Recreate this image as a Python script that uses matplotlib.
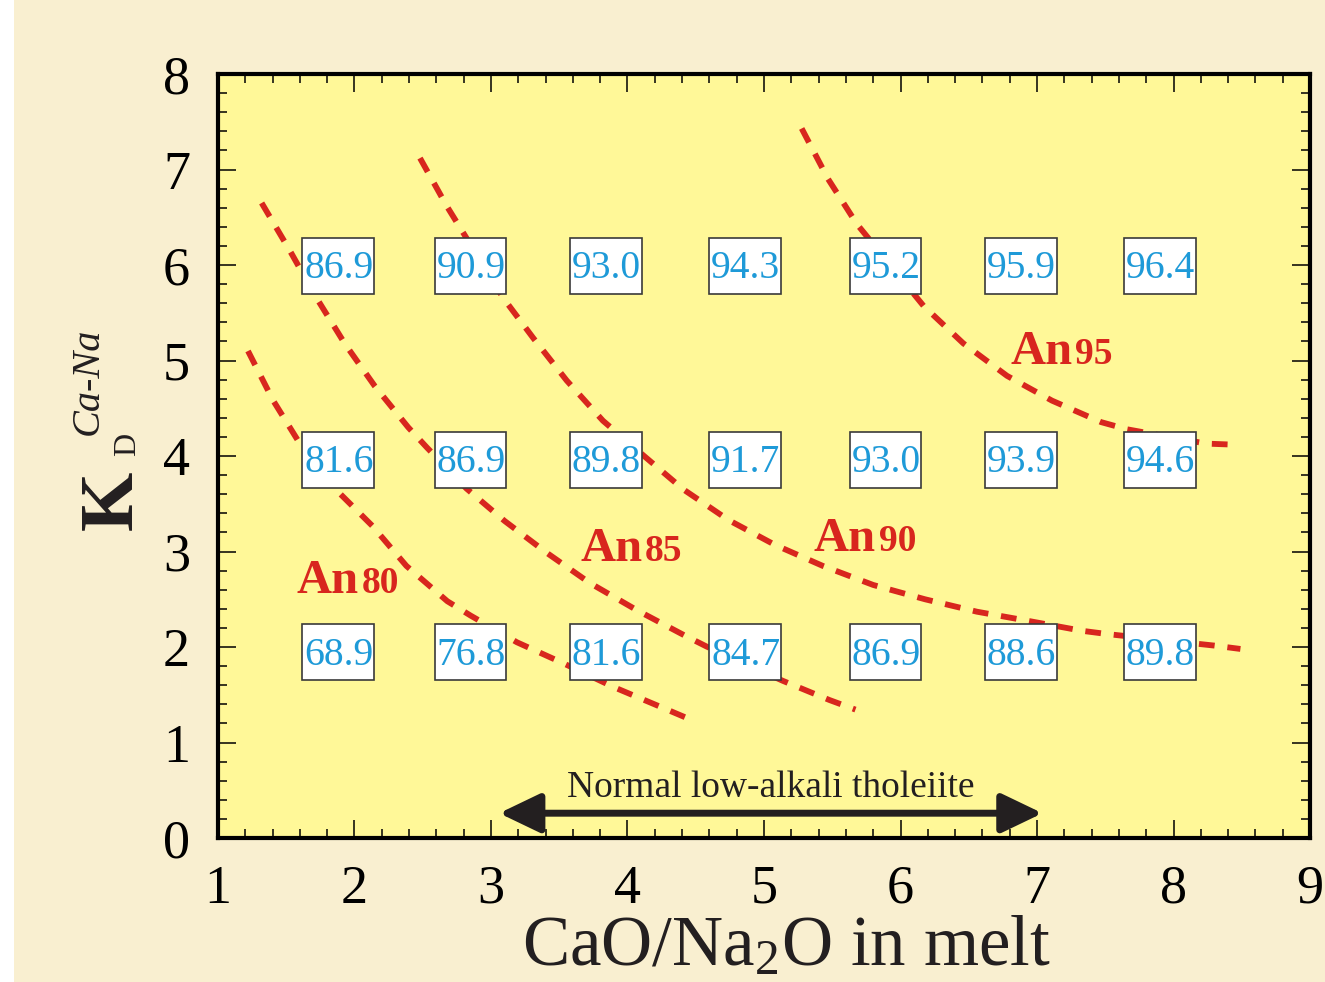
import numpy as np
import matplotlib.pyplot as plt
from matplotlib.patches import Rectangle, FancyArrowPatch

plt.rcParams['font.family'] = ['Liberation Serif', 'DejaVu Serif']
plt.rcParams['mathtext.fontset'] = 'custom'
plt.rcParams['mathtext.rm'] = 'Liberation Serif'
plt.rcParams['mathtext.it'] = 'Liberation Serif:italic'
plt.rcParams['mathtext.bf'] = 'Liberation Serif:bold'

# An isopleths
an80_x = [1.22, 1.405, 1.60, 1.87, 2.13, 2.38, 2.68, 2.85, 3.19, 3.53, 3.90, 4.24, 4.43]
an80_y = [5.10, 4.58, 4.13, 3.64, 3.27, 2.85, 2.48, 2.33, 2.05, 1.83, 1.58, 1.375, 1.26]

an85_x = [1.32, 1.527, 1.72, 1.93, 2.15, 2.394, 2.53, 2.82, 3.10, 3.41, 3.725, 4.07, 4.42, 4.58, 5.14, 5.48, 5.67]
an85_y = [6.65, 6.15, 5.66, 5.175, 4.73, 4.30, 4.09, 3.66, 3.32, 2.985, 2.67, 2.385, 2.12, 2.005, 1.645, 1.445, 1.345]

an90_x = [2.48, 2.675, 2.77, 3.09, 3.31, 3.555, 3.82, 4.13, 4.41, 4.74, 5.08, 5.43, 5.80, 6.18, 6.56, 6.95, 7.33, 7.52, 8.30, 8.49]
an90_y = [7.12, 6.62, 6.40, 5.655, 5.235, 4.79, 4.37, 3.99, 3.65, 3.33, 3.07, 2.85, 2.65, 2.50, 2.37, 2.27, 2.17, 2.135, 2.015, 1.98]

an95_x = [5.276, 5.47, 5.68, 6.17, 6.46, 6.78, 7.11, 7.47, 7.66, 8.24, 8.43]
an95_y = [7.43, 6.90, 6.43, 5.57, 5.18, 4.84, 4.58, 4.355, 4.28, 4.13, 4.12]

curve_labels = ['80', '85', '90', '95']
label_x = [2.033, 4.11, 5.82, 7.26]
label_y = [2.57, 2.905, 3.01, 4.965]

# An content in the grid of boxes
box_x = [1.88, 2.85, 3.84, 4.86, 5.89, 6.88, 7.90]
box_y = [5.99, 3.96, 1.945]
box_vals = [
    [86.9, 90.9, 93.0, 94.3, 95.2, 95.9, 96.4],
    [81.6, 86.9, 89.8, 91.7, 93.0, 93.9, 94.6],
    [68.9, 76.8, 81.6, 84.7, 86.9, 88.6, 89.8],
]

arrow_x = [3.06, 7.04]
arrow_y = 0.26

red = '#D8261E'
blue = '#1E9AD8'
dark = '#231F20'

fig = plt.figure(figsize=(13.25, 9.82), dpi=100, facecolor='#F9EFD0')
fig.patches.append(Rectangle((0, 0), 14 / 1325, 1, transform=fig.transFigure,
                             facecolor='white', edgecolor='none', zorder=-10))
ax = fig.add_axes([0.1645, 0.1466, 0.8242, 0.778])
ax.set_facecolor('#FFF898')
ax.set_xlim(1, 9)
ax.set_ylim(0, 8)

for s in ax.spines.values():
    s.set_linewidth(3)
    s.set_color('black')

ax.set_xticks(np.arange(1, 10))
ax.set_yticks(np.arange(0, 9))
ax.set_xticks(np.arange(1, 9.01, 0.2), minor=True)
ax.set_yticks(np.arange(0, 8.01, 0.2), minor=True)
ax.tick_params(which='both', direction='in', top=True, right=True, width=1.1, color='black')
ax.tick_params(which='major', length=13, labelsize=39)
ax.tick_params(which='minor', length=6.5)
ax.tick_params(axis='x', pad=19)
ax.tick_params(axis='y', pad=20)

dash = (0, (2.7, 2.2))
for cx, cy in [(an80_x, an80_y), (an85_x, an85_y), (an90_x, an90_y), (an95_x, an95_y)]:
    ax.plot(cx, cy, color=red, lw=4.2, linestyle=dash, zorder=2)

for lab, lx, ly in zip(curve_labels, label_x, label_y):
    ax.text(lx, ly, 'An', color=red, fontsize=35, fontweight='bold', ha='right', va='baseline', zorder=5)
    ax.text(lx + 0.02, ly, lab, color=red, fontsize=27, fontweight='bold', ha='left', va='baseline', zorder=5)

bw, bh = 0.527, 0.587
for j, by in enumerate(box_y):
    for i, bx in enumerate(box_x):
        ax.add_patch(Rectangle((bx - bw / 2, by - bh / 2), bw, bh, facecolor='white',
                               edgecolor='#3a3a3a', lw=1.2, zorder=3))
        ax.text(bx + 0.005, by - 0.03, '{:.1f}'.format(box_vals[j][i]), color=blue, fontsize=28.5,
                ha='center', va='center', zorder=4)

arr = FancyArrowPatch((arrow_x[0], arrow_y), (arrow_x[1], arrow_y),
                      arrowstyle='<|-|>,head_length=25,head_width=12', mutation_scale=1,
                      lw=5, color=dark, shrinkA=0, shrinkB=0, zorder=5)
ax.add_patch(arr)
ax.text(np.mean(arrow_x), 0.43, 'Normal low-alkali tholeiite', color=dark, fontsize=27,
        ha='center', va='baseline', zorder=5)

fig.text(786 / 1325, 17 / 982, 'CaO/Na$_2$O in melt', fontsize=51, color=dark,
         ha='center', va='baseline')

fig.text(113 / 1325, 1 - 500 / 982, 'K', rotation=90, fontsize=55, fontweight='bold',
         color=dark, ha='center', va='center')
fig.text(127.5 / 1325, 1 - 444 / 982, 'D', rotation=90, fontsize=23,
         color=dark, ha='center', va='center')
fig.text(88.5 / 1325, 1 - 381.5 / 982, 'Ca-Na', rotation=90, fontsize=29, fontstyle='italic',
         color=dark, ha='center', va='center')

fig.savefig('out.png', dpi=100, facecolor=fig.get_facecolor())
